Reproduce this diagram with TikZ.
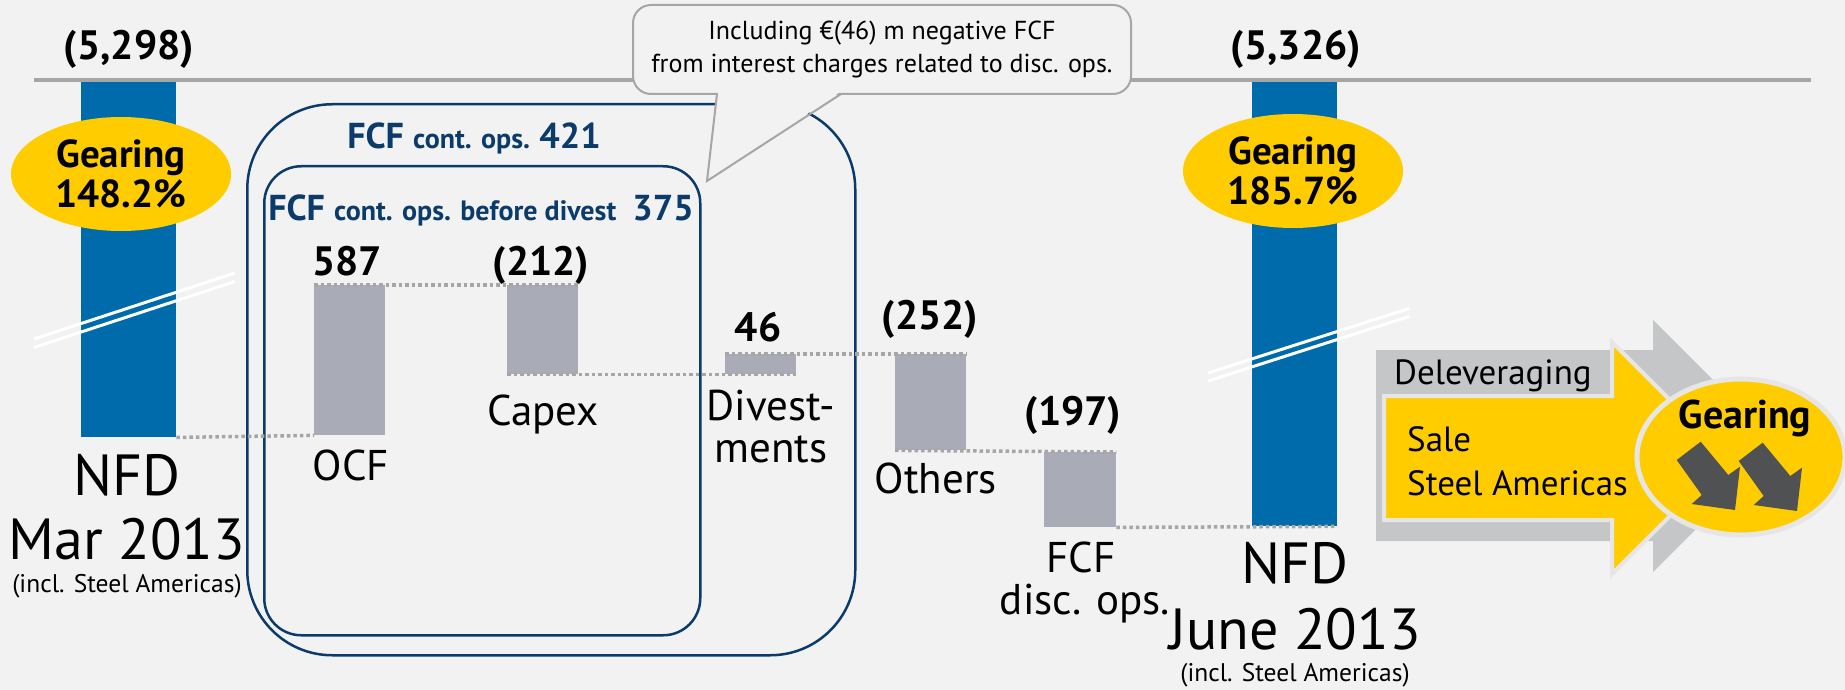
\documentclass[tikz,border=0pt]{standalone}
\usepackage{fontspec}
\setmainfont{PT Sans}
\usetikzlibrary{shapes.geometric}
\definecolor{bgc}{HTML}{F2F2F2}
\definecolor{nblue}{HTML}{006BAB}
\definecolor{gyel}{HTML}{FFCC00}
\definecolor{gbar}{HTML}{A9ABB6}
\definecolor{dotc}{HTML}{A6A6A6}
\definecolor{navy}{HTML}{0B3B6B}
\definecolor{linec}{HTML}{A6A6A6}
\definecolor{garrow}{HTML}{C5C6C8}
\definecolor{darr}{HTML}{505153}
\definecolor{outl}{HTML}{E6E6E6}
\newcommand\fsz[2]{\fontsize{#1}{#2}\selectfont}
\begin{document}
\begin{tikzpicture}[x=1pt,y=-1pt,
  nfdbar/.style={fill=nblue, draw=none, inner sep=0pt, anchor=north west},
  wbar/.style={fill=gbar, draw=none, inner sep=0pt, anchor=north west},
  dotline/.style={draw=dotc, line width=3.5pt, dash pattern=on 3.5pt off 3pt},
  num/.style={font=\fsz{41}{48}\bfseries, anchor=base, inner sep=0pt},
  lbl/.style={font=\fsz{43}{50}, anchor=base, inner sep=0pt},
  biglbl/.style={font=\fsz{58}{64}, anchor=base, inner sep=0pt},
  smalllbl/.style={font=\fsz{25.5}{28}, anchor=base, inner sep=0pt},
  gear/.style={ellipse, fill=gyel, minimum width=220pt, minimum height=114pt, align=center, font=\fsz{39}{40}\bfseries, inner sep=0pt},
  frameA/.style={draw=navy, line width=2.5pt, inner sep=0pt, anchor=north west},
  brk/.style={white, line width=3pt},
  ttl/.style={text=navy, anchor=base, inner sep=0pt}
]
\fill[bgc] (0,0) rectangle (1845,690);
\useasboundingbox (0,0) rectangle (1845,690);

% top rule
\coordinate (ruleL) at (34,80.5);
\coordinate (ruleR) at (1811,80.5);
\draw[linec, line width=4pt] (ruleL) -- (ruleR);

% frames
\node[frameA, rounded corners=85pt, minimum width=608pt, minimum height=551pt] (outer) at (246,103) {};
\node[frameA, rounded corners=37pt, minimum width=436pt, minimum height=469pt] (inner) at (263,165) {};

% bars
\node[nfdbar, minimum width=95pt, minimum height=355pt] (nfdA) at (81,82) {};
\node[wbar, minimum width=71pt, minimum height=150pt] (ocf) at (314,285) {};
\node[wbar, minimum width=71pt, minimum height=89pt] (capex) at (507,285) {};
\node[wbar, minimum width=71pt, minimum height=20pt] (div) at (725,354) {};
\node[wbar, minimum width=71pt, minimum height=96pt] (oth) at (895,354) {};
\node[wbar, minimum width=72pt, minimum height=75pt] (disc) at (1044,452) {};
\node[nfdbar, minimum width=85pt, minimum height=444pt] (nfdB) at (1252,82) {};

% dotted connectors
\draw[dotline] (nfdA.south east) -- (ocf.south west);
\draw[dotline] (ocf.north west) -- (capex.north east);
\draw[dotline] (capex.south west) -- (div.south east);
\draw[dotline] (div.north west) -- (oth.north east);
\draw[dotline] (oth.south west) -- (disc.north east);
\draw[dotline] (disc.south east) -- (nfdB.south east);

% break marks
\draw[brk] (34,339) -- (235,273);
\draw[brk] (34,347.5) -- (235,281.5);
\draw[brk] (1208,373) -- (1409,308.5);
\draw[brk] (1208,381) -- (1409,316.5);

% gearing ellipses
\node[gear] (gearA) at (121,174) {Gearing\\148.2\%};
\node[gear] (gearB) at (1293,171) {Gearing\\185.7\%};

% values
\node[num] (vA) at (129,60) {(5,298)};
\node[num] (vB) at (1296,60) {(5,326)};
\node[num] (vocf) at (347,275) {587};
\node[num] (vcap) at (541,275) {(212)};
\node[num] (vdiv) at (758,341) {46};
\node[num] (voth) at (930,329) {(252)};
\node[num] (vdisc) at (1073,425) {(197)};

% labels
\node[lbl] (locf) at (351,480) {OCF};
\node[lbl] (lcap) at (543,425) {Capex};
\node[lbl] (ldiv1) at (771,420) {Divest-};
\node[lbl] (ldiv2) at (771,462) {ments};
\node[lbl] (loth) at (936,493) {Others};
\node[lbl] (ldisc1) at (1081,572) {FCF};
\node[lbl] (ldisc2) at (1085,614) {disc. ops.};
\node[biglbl] (lnA1) at (127,495) {NFD};
\node[biglbl] (lnA2) at (127,559) {Mar 2013};
\node[smalllbl] (lnA3) at (127,592) {(incl. Steel Americas)};
\node[biglbl] (lnB1) at (1295,583) {NFD};
\node[biglbl] (lnB2) at (1295,649) {June 2013};
\node[smalllbl] (lnB3) at (1295,681) {(incl. Steel Americas)};

% frame titles
\node[ttl] (t1) at (474,149) {\fsz{36}{40}\bfseries FCF \fsz{28}{30}cont. ops. \fsz{36}{40}421};
\node[ttl] (t2) at (481,220) {\fsz{36}{40}\bfseries FCF \fsz{28}{30}cont. ops. before divest \fsz{36}{40}\ 375};

% callout
\node[draw=linec, line width=2pt, fill=bgc, rounded corners=18pt, minimum width=498pt, minimum height=89pt, inner sep=0pt, align=center, font=\fsz{26}{33}] (call) at (882,49.5) {Including €(46) m negative FCF\\from interest charges related to disc. ops.};
\coordinate (tipc) at (707,181);
\fill[bgc] (718,92) -- (tipc) -- (840,92) -- cycle;
\draw[linec, line width=2pt] (717,94) -- (tipc) -- (841,94);

% deleveraging arrows
\fill[garrow] (1376,350) -- (1653,350) -- (1653,320) -- (1779,446) -- (1653,572) -- (1653,541) -- (1376,541) -- cycle;
\draw[outl, line width=4pt, fill=gyel, line join=miter] (1384,396) -- (1612,396) -- (1612,342) -- (1728,458) -- (1612,574) -- (1612,520) -- (1384,520) -- cycle;
\node[anchor=base west, inner sep=0pt, font=\fsz{35}{40}] (dlv) at (1394,384) {Deleveraging};
\node[anchor=base west, inner sep=0pt, font=\fsz{35}{44}] (sale1) at (1407,451) {Sale};
\node[anchor=base west, inner sep=0pt, font=\fsz{35}{44}] (sale2) at (1407,495) {Steel Americas};

\node[ellipse, fill=gyel, draw=outl, line width=5pt, minimum width=208pt, minimum height=156pt, inner sep=0pt] (gearC) at (1741,457) {};
\node[anchor=base, inner sep=0pt, font=\fsz{40}{44}\bfseries] (gearCt) at (1745,428) {Gearing};
\fill[darr] (1700.7,441.7) -- (1676.7,460) -- (1701.7,495) -- (1691.7,504) -- (1735,510) -- (1740,466.7) -- (1728.3,475) -- cycle;
\fill[darr] (1762.7,442.7) -- (1738.7,461) -- (1763.7,496) -- (1753.7,505) -- (1797,511) -- (1802,467.7) -- (1790.3,476) -- cycle;
\end{tikzpicture}
\end{document}
